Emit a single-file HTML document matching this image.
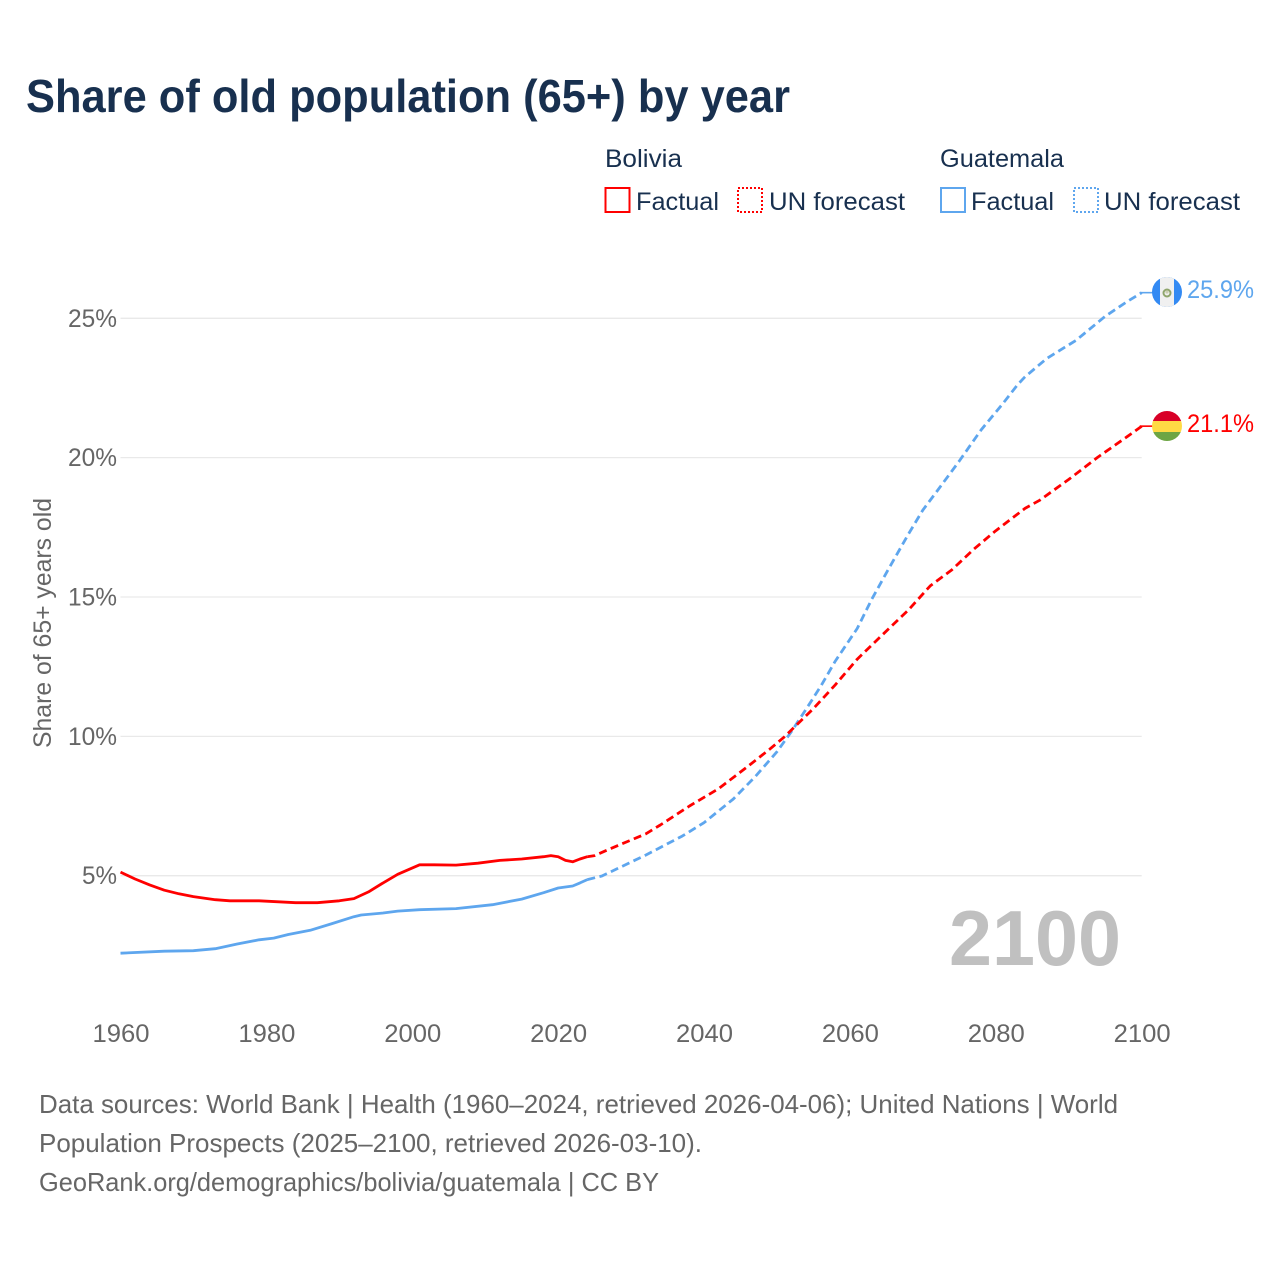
<!DOCTYPE html>
<html lang="en">
<head>
<meta charset="utf-8">
<title>Share of old population (65+) by year</title>
<style>
html,body{margin:0;padding:0;background:#fff;width:1280px;height:1280px;overflow:hidden}
svg{display:block;font-family:"Liberation Sans",Arial,sans-serif}
</style>
</head>
<body>
<svg id="chart" xmlns="http://www.w3.org/2000/svg" width="1280" height="1280" viewBox="0 0 1280 1280">
  <rect width="1280" height="1280" fill="#ffffff"/>
  <text x="26" y="112" font-size="46" font-weight="700" fill="#18304f" textLength="764" lengthAdjust="spacingAndGlyphs">Share of old population (65+) by year</text>

  <g id="legend" font-size="25" fill="#18304f">
    <text x="605" y="167" textLength="77" lengthAdjust="spacingAndGlyphs">Bolivia</text>
    <text x="940" y="167" textLength="124" lengthAdjust="spacingAndGlyphs">Guatemala</text>
    <rect x="605.5" y="188" width="24" height="24" fill="none" stroke="#ff0000" stroke-width="2"/>
    <text x="636" y="210" textLength="83" lengthAdjust="spacingAndGlyphs">Factual</text>
    <rect x="738" y="188" width="24" height="24" fill="none" stroke="#ff0000" stroke-width="2" stroke-dasharray="2 2"/>
    <text x="769" y="210" textLength="136" lengthAdjust="spacingAndGlyphs">UN forecast</text>
    <rect x="941" y="188" width="24" height="24" fill="none" stroke="#5ea6ee" stroke-width="2"/>
    <text x="971" y="210" textLength="83" lengthAdjust="spacingAndGlyphs">Factual</text>
    <rect x="1074" y="188" width="24" height="24" fill="none" stroke="#5ea6ee" stroke-width="2" stroke-dasharray="2 2"/>
    <text x="1104" y="210" textLength="136" lengthAdjust="spacingAndGlyphs">UN forecast</text>
  </g>

  <g id="grid"></g>
  <g id="y-ticks"></g>
  <g id="x-ticks"></g>

  <text transform="translate(51 748) rotate(-90)" font-size="25" fill="#666666" textLength="250" lengthAdjust="spacingAndGlyphs">Share of 65+ years old</text>
  <text x="949" y="965" font-size="78" font-weight="700" fill="#c0c0c0" textLength="172" lengthAdjust="spacingAndGlyphs">2100</text>

  <g id="series"></g>

  <g>
    <clipPath id="clip-gt"><circle cx="1167" cy="292" r="15"/></clipPath>
    <g clip-path="url(#clip-gt)">
      <rect x="1152" y="277" width="30" height="30" fill="#338af3"/>
      <rect x="1160" y="277" width="14" height="30" fill="#f0f0f0"/>
      <circle cx="1167" cy="293" r="3.5" fill="none" stroke="#8fa56c" stroke-width="2"/>
      <circle cx="1167" cy="292" r="1.6" fill="#c9cdb0"/>
    </g>
  </g>
  <g>
    <clipPath id="clip-bo"><circle cx="1167" cy="426" r="15"/></clipPath>
    <g clip-path="url(#clip-bo)">
      <rect x="1152" y="411" width="30" height="10" fill="#d80027"/>
      <rect x="1152" y="421" width="30" height="11" fill="#ffda44"/>
      <rect x="1152" y="432" width="30" height="10" fill="#6da544"/>
    </g>
  </g>

  <text x="1187" y="298" font-size="25" fill="#5ea6ee" textLength="67" lengthAdjust="spacingAndGlyphs">25.9%</text>
  <text x="1187" y="432" font-size="25" fill="#ff0000" textLength="67" lengthAdjust="spacingAndGlyphs">21.1%</text>

  <g font-size="26" fill="#666666">
    <text x="39" y="1113" textLength="1079" lengthAdjust="spacingAndGlyphs">Data sources: World Bank | Health (1960–2024, retrieved 2026-04-06); United Nations | World</text>
    <text x="39" y="1152" textLength="663" lengthAdjust="spacingAndGlyphs">Population Prospects (2025–2100, retrieved 2026-03-10).</text>
    <text x="39" y="1191" textLength="620" lengthAdjust="spacingAndGlyphs">GeoRank.org/demographics/bolivia/guatemala | CC BY</text>
  </g>
</svg>

<script>
const yTickValues = [5, 10, 15, 20, 25];
const xTickValues = [1960, 1980, 2000, 2020, 2040, 2060, 2080, 2100];

const boliviaFactualYears = [1960,1962,1964,1966,1968,1970,1973,1975,1979,1984,1987,1990,1992,1994,1996,1998,2001,2003,2006,2009,2012,2015,2018,2019,2020,2021,2022,2023,2024];
const boliviaFactualValues = [5.13,4.88,4.67,4.48,4.35,4.25,4.14,4.10,4.10,4.03,4.03,4.10,4.18,4.42,4.74,5.05,5.39,5.39,5.38,5.45,5.55,5.60,5.68,5.72,5.68,5.55,5.50,5.60,5.68];
const boliviaForecastYears = [2024,2025,2027,2032,2034,2038,2042,2046,2049,2051,2055,2058,2061,2064,2068,2071,2074,2077,2080,2084,2086,2090,2094,2098,2100];
const boliviaForecastValues = [5.68,5.72,5.95,6.50,6.82,7.50,8.12,8.92,9.54,9.98,11.00,11.85,12.77,13.53,14.53,15.40,15.98,16.72,17.38,18.18,18.47,19.22,20.02,20.75,21.13];

const guatemalaFactualYears = [1960,1966,1970,1973,1976,1979,1981,1983,1986,1989,1992,1993,1996,1998,2001,2006,2011,2015,2018,2020,2022,2023,2024];
const guatemalaFactualValues = [2.22,2.29,2.31,2.38,2.55,2.70,2.76,2.89,3.04,3.28,3.53,3.59,3.66,3.73,3.78,3.82,3.96,4.16,4.39,4.56,4.63,4.74,4.86];
const guatemalaForecastYears = [2024,2026,2032,2037,2040,2044,2047,2050,2052,2054,2056,2058,2061,2063,2065,2068,2070,2072,2075,2078,2081,2083,2084,2087,2091,2095,2098,2100];
const guatemalaForecastValues = [4.86,4.99,5.74,6.42,6.90,7.75,8.55,9.45,10.18,10.98,11.80,12.70,13.87,14.92,15.87,17.25,18.12,18.82,19.88,21.00,21.95,22.62,22.90,23.56,24.21,25.07,25.60,25.92];

const SVG_NS = "http://www.w3.org/2000/svg";
const x = function (year) { return 120.5 + (year - 1960) * (1021.2 / 140); };
const y = function (pct) { return 875.7 - (pct - 5) * 27.87; };

const gridLayer = document.getElementById("grid");
const yTickLayer = document.getElementById("y-ticks");
const xTickLayer = document.getElementById("x-ticks");
const seriesLayer = document.getElementById("series");

yTickValues.forEach(function (v) {
  const line = document.createElementNS(SVG_NS, "line");
  
  
  line.setAttribute("x1", x(1960));
  line.setAttribute("x2", x(2100));
  line.setAttribute("y1", y(v));
  line.setAttribute("y2", y(v));
  line.setAttribute("stroke", "#e9e9e9");
  line.setAttribute("stroke-width", "1.3");
  gridLayer.appendChild(line);

  const labelWidth = v < 10 ? 35 : 49;
  const label = document.createElementNS(SVG_NS, "text");
  
  
  label.setAttribute("x", 117 - labelWidth);
  label.setAttribute("y", y(v) + 8.5);
  label.setAttribute("font-size", "25");
  label.setAttribute("fill", "#666666");
  label.setAttribute("textLength", labelWidth);
  label.setAttribute("lengthAdjust", "spacingAndGlyphs");
  label.textContent = v + "%";
  yTickLayer.appendChild(label);
});

xTickValues.forEach(function (t) {
  const label = document.createElementNS(SVG_NS, "text");
  
  
  label.setAttribute("x", x(t) - 28);
  label.setAttribute("y", 1042);
  label.setAttribute("font-size", "25");
  label.setAttribute("fill", "#666666");
  label.setAttribute("textLength", "57");
  label.setAttribute("lengthAdjust", "spacingAndGlyphs");
  label.textContent = String(t);
  xTickLayer.appendChild(label);
});

function toPoints(years, values) {
  return years.map(function (yr, i) {
    return x(yr).toFixed(1) + "," + y(values[i]).toFixed(1);
  }).join(" ");
}

function drawLine(years, values, color, dashed, name) {
  const line = document.createElementNS(SVG_NS, "polyline");
  
  
  line.setAttribute("points", toPoints(years, values));
  line.setAttribute("fill", "none");
  line.setAttribute("stroke", color);
  line.setAttribute("stroke-width", "2.8");
  line.setAttribute("stroke-linejoin", "round");
  if (dashed) {
    line.setAttribute("stroke-dasharray", "8 4.5");
  }
  seriesLayer.appendChild(line);
}

function drawLeader(years, values, color, name) {
  const last = values[values.length - 1];
  const lastYear = years[years.length - 1];
  const leader = document.createElementNS(SVG_NS, "line");
  
  
  leader.setAttribute("x1", x(lastYear) - 2);
  leader.setAttribute("x2", x(lastYear) + 12);
  leader.setAttribute("y1", y(last));
  leader.setAttribute("y2", y(last));
  leader.setAttribute("stroke", color);
  leader.setAttribute("stroke-width", "1.6");
  seriesLayer.appendChild(leader);
}

drawLine(guatemalaFactualYears, guatemalaFactualValues, "#5ea6ee", false, "guatemala-factual-line");
drawLine(guatemalaForecastYears, guatemalaForecastValues, "#5ea6ee", true, "guatemala-forecast-line");
drawLeader(guatemalaForecastYears, guatemalaForecastValues, "#5ea6ee", "guatemala-end-leader");
drawLine(boliviaFactualYears, boliviaFactualValues, "#ff0000", false, "bolivia-factual-line");
drawLine(boliviaForecastYears, boliviaForecastValues, "#ff0000", true, "bolivia-forecast-line");
drawLeader(boliviaForecastYears, boliviaForecastValues, "#ff0000", "bolivia-end-leader");
</script>
</body>
</html>
